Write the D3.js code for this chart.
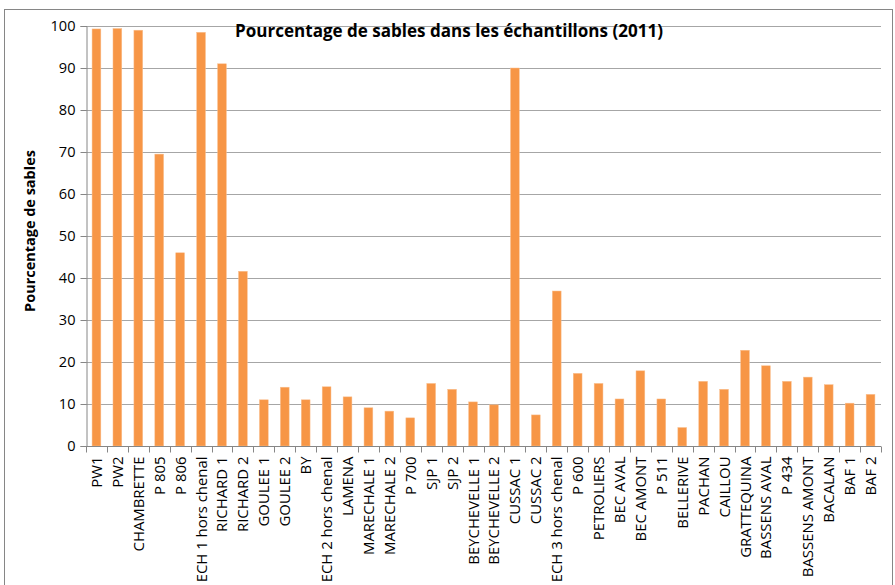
<!DOCTYPE html>
<html><head><meta charset="utf-8">
<script src="https://cdn.jsdelivr.net/npm/d3@7"></script>
<style>body{margin:0;background:#fff}svg{display:block}</style>
</head><body>
<script>
const categories = ["PW1","PW2","CHAMBRETTE","P 805","P 806","ECH 1 hors chenal","RICHARD 1","RICHARD 2","GOULEE 1","GOULEE 2","BY","ECH 2 hors chenal","LAMENA","MARECHALE 1","MARECHALE 2","P 700","SJP 1","SJP 2","BEYCHEVELLE 1","BEYCHEVELLE 2","CUSSAC 1","CUSSAC 2","ECH 3 hors chenal","P 600","PETROLIERS","BEC AVAL","BEC AMONT","P 511","BELLERIVE","PACHAN","CAILLOU","GRATTEQUINA","BASSENS AVAL","P 434","BASSENS AMONT","BACALAN","BAF 1","BAF 2"];
const values = [99.3,99.4,99.0,69.5,46.0,98.5,91.0,41.6,11.0,14.0,11.0,14.1,11.7,9.1,8.3,6.7,14.9,13.5,10.5,9.8,90.0,7.4,36.9,17.3,14.9,11.2,17.9,11.2,4.4,15.4,13.5,22.8,19.1,15.4,16.4,14.6,10.2,12.3];
const yTicks = [0,10,20,30,40,50,60,70,80,90,100];
const title = "Pourcentage de sables dans les échantillons (2011)";
const yTitle = "Pourcentage de sables";

const W = 895, H = 585;
const m = {left:86, right:14, top:26, bottom:139};
const svg = d3.select("body").append("svg").attr("width",W).attr("height",H);
const font = "'Open Sans', sans-serif";

// measure a reference string to pick font sizes matching the picture
function sizeFor(str, target, weight){
  const t = svg.append("text").attr("font-family",font).attr("font-size",20)
    .attr("font-weight",weight||"normal").text(str);
  const w = t.node().getComputedTextLength(); t.remove();
  return 20*target/w;
}
const labelSize = sizeFor("CHAMBRETTE", 95);
const tickSize = sizeFor("100", 25);

svg.append("rect").attr("x",4.5).attr("y",9.5).attr("width",888).attr("height",600)
  .attr("fill","#fff").attr("stroke","#868686").attr("stroke-width",1);

const x = d3.scaleBand().domain(categories).range([m.left, W-m.right]).paddingInner(0.58).paddingOuter(0.29);
const y = d3.scaleLinear().domain([0,100]).range([H-m.bottom, m.top]);

// gridlines
svg.append("g").selectAll("line").data(yTicks.filter(d=>d>0)).join("line")
  .attr("x1",m.left).attr("x2",W-m.right)
  .attr("y1",d=>Math.round(y(d))+0.5).attr("y2",d=>Math.round(y(d))+0.5)
  .attr("stroke","#A6A6A6").attr("stroke-width",1);

// bars
svg.append("g").selectAll("rect").data(values).join("rect")
  .attr("x",(d,i)=>x(categories[i])).attr("width",x.bandwidth())
  .attr("y",d=>y(d)).attr("height",d=>y(0)-y(d))
  .attr("fill","#F79646").attr("stroke","#FAC090").attr("stroke-width",0.5);

// y axis
const ya = svg.append("g").attr("transform",`translate(${m.left+0.5},0)`)
  .call(d3.axisLeft(y).tickValues(yTicks).tickSize(6).tickPadding(5));
ya.selectAll("path,line").attr("stroke","#868686");
ya.selectAll("text").attr("font-family",font).attr("font-size",tickSize.toFixed(2)).attr("fill","#000");

// x axis
const step = x.step();
const xa = svg.append("g").attr("transform",`translate(0,${Math.round(y(0))+0.5})`);
xa.append("line").attr("x1",m.left).attr("x2",W-m.right).attr("stroke","#868686");
const bounds = d3.range(categories.length+1).map(i=>m.left + i*step);
xa.selectAll("line.t").data(bounds).join("line").attr("class","t")
  .attr("x1",d=>Math.round(d)+0.5).attr("x2",d=>Math.round(d)+0.5).attr("y1",0).attr("y2",6)
  .attr("stroke","#868686");
xa.selectAll("text").data(categories).join("text")
  .attr("transform",d=>`translate(${x(d)+x.bandwidth()/2+5.5},10) rotate(-90)`)
  .attr("text-anchor","end").attr("font-family",font).attr("font-size",labelSize.toFixed(2)).attr("fill","#000")
  .text(d=>d);

// titles
const t1 = svg.append("text").attr("x",449).attr("y",37).attr("text-anchor","middle")
  .attr("font-family",font).attr("font-weight","bold")
  .attr("font-size",sizeFor(title,428,"bold").toFixed(2)).text(title);
const t2 = svg.append("text").attr("transform",`translate(35,231) rotate(-90)`).attr("text-anchor","middle")
  .attr("font-family",font).attr("font-weight","bold")
  .attr("font-size",sizeFor(yTitle,162,"bold").toFixed(2)).text(yTitle);
</script>
</body></html>
